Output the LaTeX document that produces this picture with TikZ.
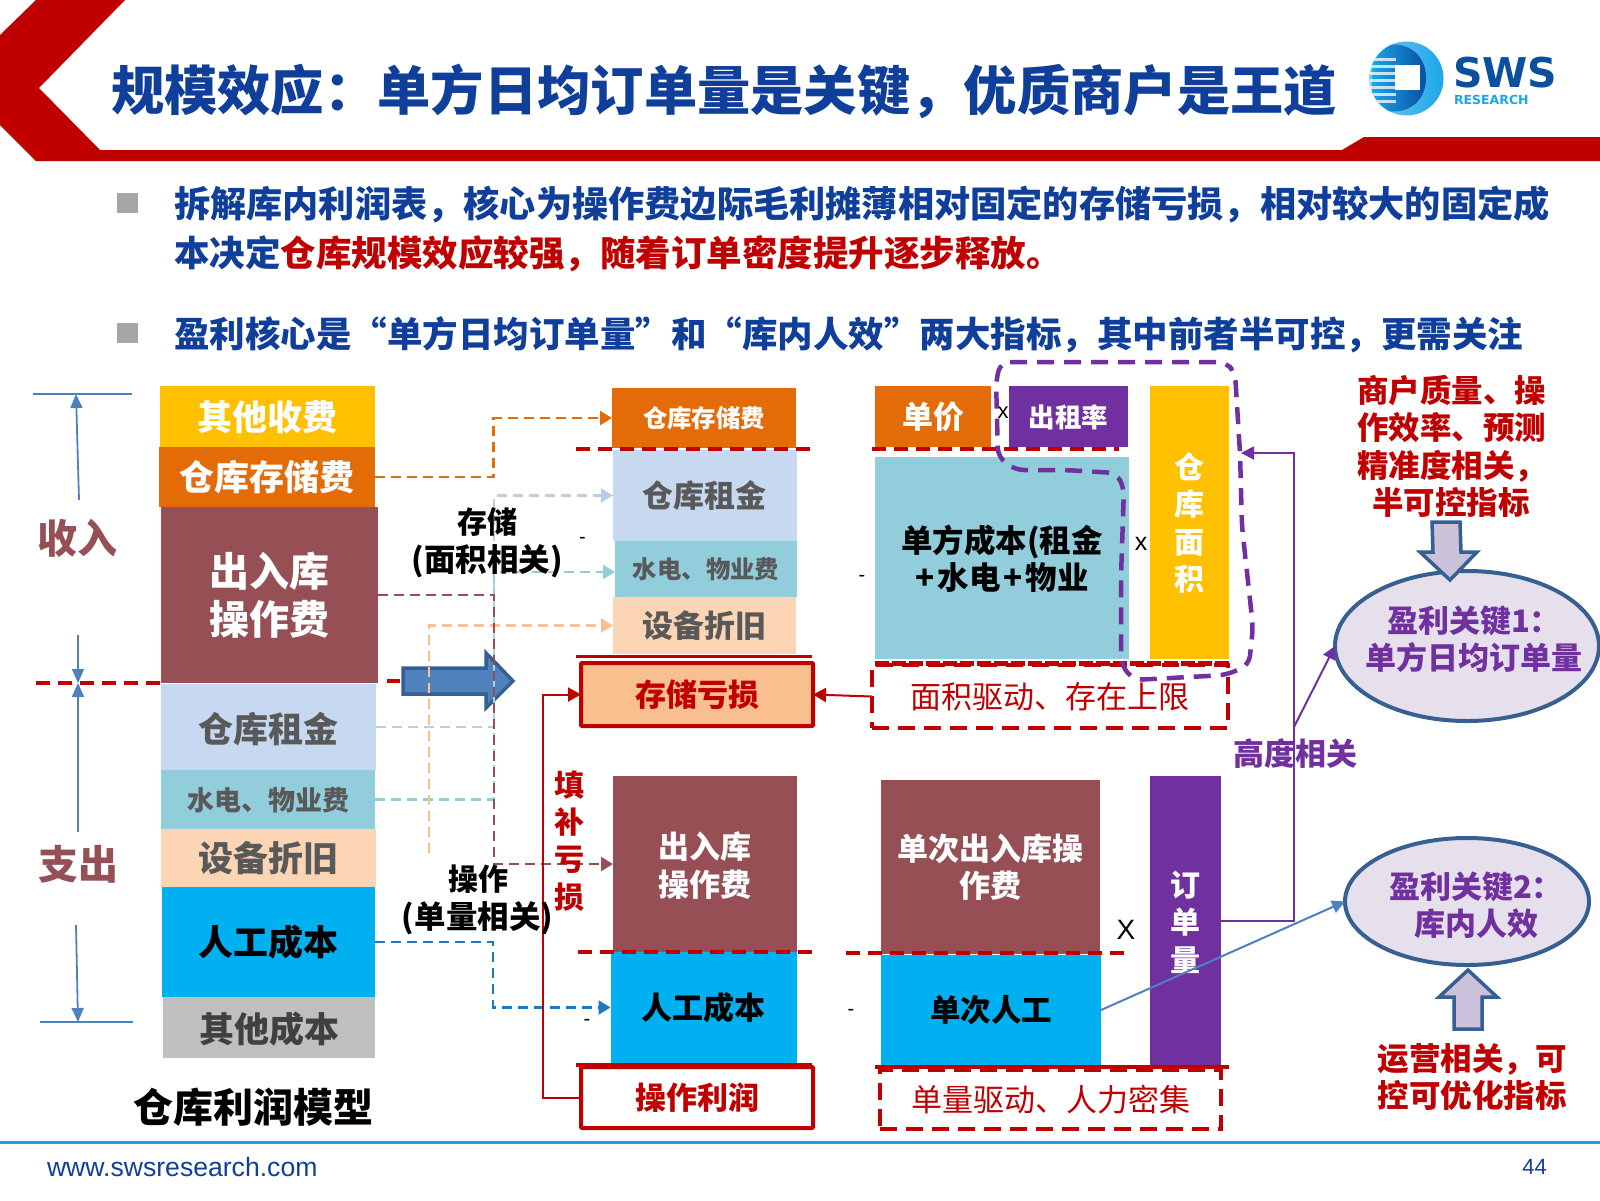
\documentclass[tikz,border=0pt]{standalone}
\usepackage{fontspec}
\setmainfont{Noto Sans CJK SC}
\newfontfamily\latinf{Liberation Sans}
\newfontfamily\logof{DejaVu Sans}
\usetikzlibrary{arrows.meta,shapes.geometric,calc}
\definecolor{dred}{HTML}{C00000}
\definecolor{tblue}{HTML}{0F3F9A}
\definecolor{yel}{HTML}{FFC000}
\definecolor{org}{HTML}{E36C09}
\definecolor{mar}{HTML}{954F55}
\definecolor{lblue}{HTML}{C6D9F1}
\definecolor{connlb}{HTML}{B9CDE5}
\definecolor{connpe}{HTML}{FAC090}
\definecolor{connbl}{HTML}{1F77BD}
\definecolor{lossf}{HTML}{FABF8F}
\definecolor{teal}{HTML}{92CDDC}
\definecolor{peach}{HTML}{FCD5B5}
\definecolor{cyan0}{HTML}{00B0F0}
\definecolor{gray0}{HTML}{BFBFBF}
\definecolor{pur}{HTML}{7030A0}
\definecolor{arrb}{HTML}{4F81BD}
\definecolor{edge}{HTML}{376092}
\definecolor{ellf}{HTML}{E6E0EC}
\definecolor{blkf}{HTML}{CCC1DA}
\definecolor{footl}{HTML}{1BA1D8}
\definecolor{logod}{HTML}{0A4FA0}
\definecolor{logoc}{HTML}{1BA6E8}
\newcommand{\fz}[1]{\fontsize{#1}{#1}\selectfont}
\newcommand{\bx}[8]{%
  \pgfmathsetmacro\bxW{#4-#2}\pgfmathsetmacro\bxH{#5-#3}%
  \pgfmathsetmacro\bxX{(#4+#2)/2}\pgfmathsetmacro\bxY{(#5+#3)/2}%
  \node[stackbox,fill=#6,minimum width=\bxW pt,minimum height=\bxH pt] (#1) at (\bxX,\bxY) {};
  \node[plain,yshift=-0.5pt,#7] (#1t) at (#1.center) {#8};}
\tikzset{
  stackbox/.style={draw=none,inner sep=0pt,outer sep=0pt},
  t35/.style={font=\bfseries\fontsize{35}{46}\selectfont},
  t40/.style={font=\bfseries\fontsize{40}{48}\selectfont},
  t31/.style={font=\bfseries\fontsize{31}{38}\selectfont},
  t30v/.style={font=\bfseries\fontsize{30}{37.5}\selectfont},
  t24/.style={font=\bfseries\fontsize{24.4}{30}\selectfont},
  t27/.style={font=\bfseries\fontsize{27}{32}\selectfont},
  wt/.style={text=white},
  gt/.style={text=black!65},
  bt/.style={text=black},
  plain/.style={inner sep=0pt,outer sep=0pt,align=center},
  conn/.style={line width=2.4pt,dash pattern=on 10pt off 6pt,-{Triangle[length=12pt,width=14pt]}},
  redd/.style={dred,line width=3.2pt,dash pattern=on 14pt off 8pt},
  dimarr/.style={arrb,line width=1.8pt,-{Triangle[length=14pt,width=12pt]}},
  dimline/.style={arrb,line width=1.5pt},
  dbox/.style={draw=dred,line width=3.6pt,dash pattern=on 17pt off 9pt,inner sep=0pt,outer sep=0pt,font=\fz{31},text=dred},
  rbox/.style={draw=dred,line width=4pt,rounded corners=1pt,inner sep=0pt,outer sep=0pt,font=\bfseries\fz{31},text=dred},
  elli/.style={shape=ellipse,draw=edge,line width=4pt,fill=ellf,inner sep=0pt,outer sep=0pt},
  solid2/.style={line width=2pt,-{Triangle[length=13pt,width=13pt]}},
  blockarr/.style={draw=edge,line width=3.5pt,fill=blkf,line join=miter}
}
\begin{document}
\begin{tikzpicture}[x=1pt,y=-1pt]
\useasboundingbox (0,0) rectangle (1600,1200);
% header
\fill[dred] (36,0) -- (125,0) -- (39,88) -- (100,150) -- (1342,150) -- (1364,137) -- (1600,137) -- (1600,161) -- (36,161) -- (0,125) -- (0,35) -- cycle;
\node[plain,anchor=west,text=tblue,font=\bfseries\fz{53.3}] (title) at (111,91) {规模效应：单方日均订单量是关键，优质商户是王道};
% logo
\begin{scope}
\clip (1406.5,78.5) circle (37);
\shade[left color=logoc!60!white,right color=logoc] (1369,41) rectangle (1444,116);
\shade[left color=logoc,right color=logod] (1372,50) .. controls (1400,36) and (1426,50) .. (1426,78) .. controls (1426,106) and (1400,120) .. (1372,106) -- cycle;
\foreach \yy in {58,65,72,79,86,93,100}{\fill[white,opacity=.75] (1369,\yy) rectangle (1396,\yy+3);}
\end{scope}
\fill[white] (1395,65) rectangle (1420,90);
\node[plain,anchor=west,text=logod,font=\logof\bfseries\fz{41}] (sws) at (1453,73) {SWS};
\node[plain,anchor=west,text=logoc,font=\logof\bfseries\fz{12.5}] (rsch) at (1454,100) {RESEARCH};
% bullets
\fill[black!35] (117,193) rectangle (138,213);
\fill[black!35] (117,323) rectangle (138,343);
\node[plain,anchor=west,text=tblue,font=\bfseries\fz{36.2}] (l1) at (174,205) {拆解库内利润表，核心为操作费边际毛利摊薄相对固定的存储亏损，相对较大的固定成};
\node[plain,anchor=west,text=tblue,font=\bfseries\fz{35.5}] (l2) at (174,254) {本决定\textcolor{dred}{仓库规模效应较强，随着订单密度提升逐步释放。}};
\node[plain,anchor=west,text=tblue,font=\bfseries\fz{35.5}] (l3) at (174,335) {盈利核心是“单方日均订单量”和“库内人效”两大指标，其中前者半可控，更需关注};
% left stack
\bx{lother}{160}{386}{375}{447}{yel}{t35,wt}{其他收费}
\bx{lstore}{159}{447}{375}{507}{org}{t35,wt}{仓库存储费}
\bx{lop}{160.5}{507}{378}{683}{mar}{t40,wt}{出入库\\操作费}
\bx{lrent}{161}{684}{376}{770}{lblue}{t35,gt,yshift=-1.5pt}{仓库租金}
\bx{lwater}{161}{770}{375}{829}{teal}{t27,gt}{水电、物业费}
\bx{ldep}{161}{829}{376}{887}{peach}{t35,gt}{设备折旧}
\bx{llab}{162}{887}{375}{997}{cyan0}{t35,bt}{人工成本}
\bx{lotc}{163}{997}{375}{1058}{gray0}{t35,text=black!75,yshift=-1.5pt}{其他成本}
\node[plain,font=\bfseries\fz{40},text=black] (lcap) at (253,1107) {仓库利润模型};
% dimension arrows
\draw[dimline] (33,394) -- (132,394);
\node[plain,font=\bfseries\fz{40},text=mar] (inc) at (77,538) {收入};
\node[plain,font=\bfseries\fz{40},text=mar] (exp) at (78,864) {支出};
\coordinate (m0) at (78,683);
\coordinate (t0) at (76,394);
\coordinate (b0) at (78,1022);
\draw[dimarr] (79,500) -- (t0);
\draw[dimarr] (78,635) -- (m0);
\draw[dimarr] (78,832) -- (m0);
\draw[dimarr] (76,925) -- (b0);
\draw[dimline] (40,1022) -- (133,1022);
\draw[redd] (36,683) -- (160,683);
\draw[dred,line width=3.2pt] (387,681) -- (400,681);
% big arrow
\draw[line width=3.5pt,draw=edge,fill=arrb] (403,668) -- (486,668) -- (486,653) -- (513,681) -- (486,708) -- (486,694) -- (403,694) -- cycle;
% middle column
\bx{mstore}{612}{388}{796}{448}{org}{t24,wt}{仓库存储费}
\bx{mrent}{613}{450}{796.5}{541}{lblue}{t31,gt}{仓库租金}
\bx{mwater}{615}{541}{797}{597}{teal}{t24,gt}{水电、物业费}
\bx{mdep}{613}{597}{796}{654}{peach}{t31,gt}{设备折旧}
\bx{mop}{613}{776}{797}{952}{mar}{t31,wt,yshift=-1.5pt}{出入库\\操作费}
\bx{mlab}{610.5}{952}{797}{1063}{cyan0}{t31,bt}{人工成本}
\draw[redd] (576,449) -- (812,449);
\draw[dred,line width=3pt] (576,656) -- (812,656);
\draw[redd] (578,952) -- (814,952);
\draw[dred,line width=4pt] (576,1065) -- (812,1065);
\node[rbox,fill=lossf,minimum width=232pt,minimum height=63pt] (loss) at (697,694.5) {\raisebox{-1.5pt}{存储亏损}};
\node[rbox,fill=white,minimum width=232pt,minimum height=61pt] (oprofit) at (697,1097.5) {\raisebox{-1.5pt}{操作利润}};
% connectors
\draw[conn,org] (lstore.east) -- ++(118.5,0) |- (mstore.west);
\draw[conn,connlb] (lrent.east) -- ++(118,0) |- (mrent.west);
\draw[conn,teal] (lwater.east) -- ++(119,0) |- ([yshift=-3pt]mwater.west);
\coordinate (depfree) at (429,853);
\draw[conn,connpe] (depfree) |- (mdep.west);
\draw[conn,mar] (lop.east) -- ++(116,0) |- (mop.west);
\draw[conn,connbl] (llab.east) -- ++(118,0) |- (mlab.west);
\draw[dred,line width=2pt,-{Triangle[length=13pt,width=14pt]}] (oprofit.west) -- ++(-38,0) |- (loss.west);
% texts of the middle
\node[plain,font=\bfseries\fz{30},text=black] (s1) at (487.5,522) {存储};
\node[plain,font=\bfseries\fz{31.5},text=black] (s2) at (487,561) {(面积相关)};
\node[plain,font=\bfseries\fz{30},text=black] (o1) at (478,879) {操作};
\node[plain,font=\bfseries\fz{31.5},text=black] (o2) at (477.5,918) {(单量相关)};
\node[plain,font=\bfseries\fontsize{30}{37.4}\selectfont,text=dred] (fill) at (569,841) {填\\补\\亏\\损};
\node[plain,font=\latinf\fz{20}] (m1) at (582.5,540) {-};
\node[plain,font=\latinf\fz{20}] (m2) at (587,1022) {-};
\node[plain,font=\latinf\fz{20}] (m3) at (862,578) {-};
\node[plain,font=\latinf\fz{20}] (m4) at (851,1012) {-};
% right column
\bx{price}{875}{386}{991}{447}{org}{font=\bfseries\fz{31},wt}{单价}
\bx{occ}{1008.6}{386}{1128}{447}{pur}{font=\bfseries\fz{26.5},wt}{出租率}
\bx{unit}{875}{457}{1129}{659}{teal}{font=\bfseries\fontsize{31.5}{37}\selectfont,bt}{单方成本(租金\\+\hspace{3pt}水电\hspace{3pt}+\hspace{3pt}物业}
\bx{area}{1150}{386}{1229}{659}{yel}{t30v,wt}{仓\\库\\面\\积}
\draw[redd] (872,449) -- (1119,449);
\draw[dred,line width=5pt,dash pattern=on 14pt off 3pt] (875,663) -- (1229,663);
\node[dbox,minimum width=356pt,minimum height=63pt] (adrv) at (1050,696.5) {\raisebox{-1.5pt}{面积驱动、存在上限}};
\draw[dred,line width=2pt,-{Triangle[length=13pt,width=14pt]}] (adrv.west) -- (loss.east);
\node[plain,font=\latinf\fz{22}] (x1) at (1003,413) {x};
\node[plain,font=\latinf\fz{25}] (x2) at (1141,544) {x};
\bx{ship}{880.5}{780}{1100}{954}{mar}{font=\bfseries\fontsize{31}{37}\selectfont,wt}{单次出入库操\\作费}
\bx{slab}{881}{955}{1101}{1065}{cyan0}{font=\bfseries\fz{30.5},bt}{单次人工}
\bx{qty}{1150}{776}{1221}{1067}{pur}{t30v,wt}{订\\单\\量}
\draw[redd] (846,953) -- (1128,953);
\draw[dred,line width=3.5pt] (874.5,1067) -- (1229,1067);
\node[dbox,minimum width=341pt,minimum height=59pt] (qdrv) at (1050.5,1099.5) {\raisebox{-1.5pt}{单量驱动、人力密集}};
\node[plain,font=\latinf\fz{28}] (x3) at (1126,930) {X};
% purple dashed outline
\draw[pur,line width=4.5pt,rounded corners=9pt,dash pattern=on 17pt off 10pt] (1001,362) -- (1226,362) -- (1235,373) -- (1240,453) -- (1242,527) -- (1253,627) -- (1249,665) -- (1226,675) -- (1134,680) -- (1121,665) -- (1121,577) -- (1124,487) -- (1116,473) -- (1065,470) -- (1015,470) -- (998,457) -- (996,380) -- cycle;
% ellipses
\node[elli,minimum width=264pt,minimum height=150pt] (e1) at (1467,646) {};
\node[elli,minimum width=244pt,minimum height=127pt] (e2) at (1467,901.5) {};
\node[plain,font=\bfseries\fontsize{31}{37}\selectfont,text=pur] (e1t) at (1474,639.5) {盈利关键1：\\单方日均订单量};
\node[plain,font=\bfseries\fontsize{31}{37}\selectfont,text=pur] (e2t) at (1476,905.5) {盈利关键2：\\库内人效};
% purple links
\node[plain,font=\bfseries\fz{31},text=pur] (high) at (1295,754) {高度相关};
\coordinate (junc) at (1294,727);
\coordinate (areaIn) at (1241,453);
\draw[pur,solid2] (qty.east|-0,921) -- (1294,921) |- (areaIn);
\draw[pur,solid2] (junc) -- (e1.west);
\draw[arrb,solid2] (slab.east) -- (e2.west);
% side red text
\node[plain,anchor=north west,font=\bfseries\fontsize{31.5}{37.5}\selectfont,text=dred,align=left] (side1) at (1357,375) {商户质量、操\\作效率、预测\\精准度相关，\\\hspace*{15pt}半可控指标};
\node[plain,font=\bfseries\fontsize{31.5}{37}\selectfont,text=dred] (side2) at (1472,1077) {运营相关，可\\控可优化指标};
% block arrows
\draw[blockarr] (1432,522) -- (1460,522) -- (1461,552) -- (1477,552) -- (1450,580) -- (1420,552) -- (1433,552) -- cycle;
\draw[blockarr] (1468,970) -- (1497,997) -- (1482,997) -- (1482,1029) -- (1454,1029) -- (1454,997) -- (1439,997) -- cycle;
% footer
\draw[line width=3pt,color=footl] (0,1142) -- (1600,1142);
\node[plain,anchor=west,font=\latinf\fz{26.6},text=tblue] (url) at (47,1167) {www.swsresearch.com};
\node[plain,font=\latinf\fz{22},text=tblue] (pg) at (1534.5,1167) {44};
\end{tikzpicture}
\end{document}
